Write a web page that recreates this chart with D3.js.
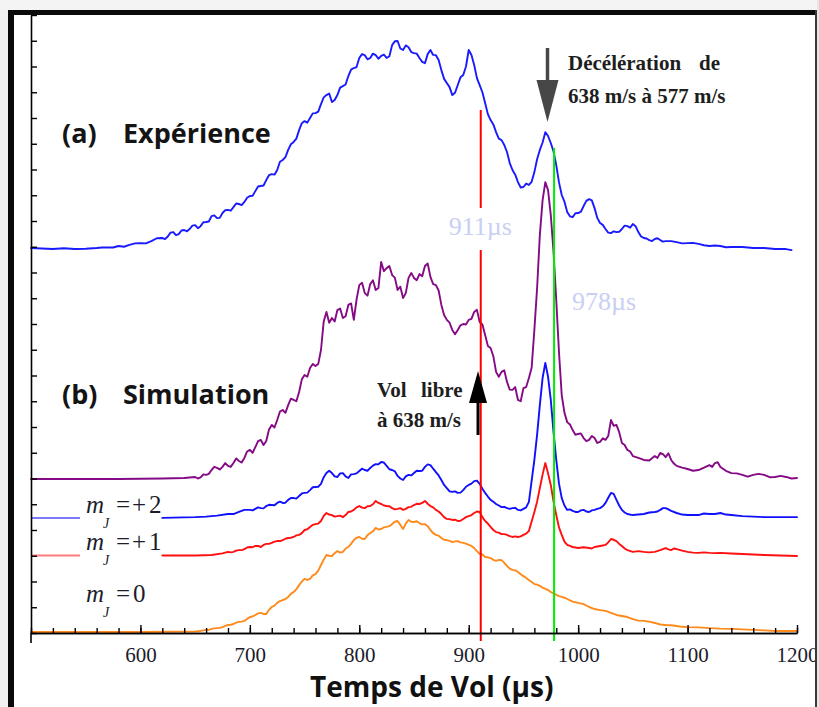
<!DOCTYPE html>
<html>
<head>
<meta charset="utf-8">
<script src="https://cdn.jsdelivr.net/npm/d3@7"></script>
<style>
  html, body { margin: 0; padding: 0; background: #fff; }
  svg { display: block; }
</style>
</head>
<body>
<svg id="chart" width="819" height="707"></svg>
<script>
// ---- axis set-up -------------------------------------------------------
const xDomain = [500, 1200];
const xMajorTicks = [600, 700, 800, 900, 1000, 1100, 1200];
const xMinorTicks = [500, 520, 540, 560, 580, 600, 620, 640, 660, 680, 700, 720, 740, 760, 780, 800,
  820, 840, 860, 880, 900, 920, 940, 960, 980, 1000, 1020, 1040, 1060, 1080, 1100, 1120, 1140, 1160, 1180, 1200];
const yDomain = [0, 24];
const yTicks = [0,1,2,3,4,5,6,7,8,9,10,11,12,13,14,15,16,17,18,19,20,21,22,23,24];

// ---- (a) measured time-of-flight signal (offset, arbitrary units) -------
const experience = [[500,14.95],[520,14.91],[530,14.94],[540,14.91],[550,14.92],[560,14.95],[565,14.97],[575,14.97],[580,15.03],[585,15.00],[590,15.07],[595,15.13],[600,15.14],[605,15.13],[610,15.22],[615,15.33],[620,15.34],[622.5,15.30],[625,15.40],[627.5,15.55],[630,15.57],[632.5,15.45],[635,15.49],[637.5,15.63],[640,15.65],[642.5,15.60],[645,15.69],[647.5,15.82],[650,15.84],[652.5,15.72],[655,15.80],[657.5,15.95],[660,15.96],[662.5,15.98],[665,16.19],[667.5,16.22],[670,16.11],[672.5,16.12],[675,16.31],[677.5,16.42],[680,16.43],[682.5,16.40],[685,16.54],[687.5,16.68],[690,16.66],[692.5,16.62],[695,16.74],[697.5,16.90],[700,16.97],[702.5,16.98],[705,17.16],[707.5,17.34],[710,17.36],[712.5,17.38],[715,17.59],[717.5,17.78],[720,17.82],[722.5,17.80],[725,17.98],[727.5,18.30],[730,18.37],[732.5,18.48],[735,18.76],[737.5,18.98],[740,19.07],[742.5,19.20],[745,19.53],[747.5,19.80],[750,19.88],[752.5,19.82],[755,20.00],[757.5,20.18],[760,20.19],[762.5,20.25],[765,20.54],[767.5,20.80],[770,20.89],[772.5,20.95],[775,20.62],[777.5,20.70],[780,20.89],[782.5,21.18],[785,21.24],[787.5,21.30],[790,21.63],[792.5,21.88],[795,21.94],[797.5,21.98],[800,22.33],[802.5,22.48],[805,22.44],[807.5,22.28],[810,22.33],[812.5,22.50],[815,22.44],[817.5,22.30],[820,22.41],[822.5,22.46],[825,22.33],[827.5,22.40],[830,22.83],[832.5,22.98],[835,22.99],[837.5,22.70],[840,22.64],[842.5,22.82],[845,22.75],[847.5,22.56],[850,22.52],[852.5,22.50],[855,22.33],[857.5,22.18],[860,22.13],[862.5,22.48],[865,22.64],[867.5,22.45],[870,22.44],[872.5,22.25],[875,21.86],[877.5,21.52],[880,21.36],[882.5,21.20],[885,20.89],[887.5,20.98],[890,21.28],[892.5,21.58],[895,21.67],[897.5,22.00],[900,22.64],[902.5,22.45],[905,22.06],[907.5,21.55],[910,21.28],[912.5,21.00],[915,20.58],[917.5,20.15],[920,19.92],[922.5,19.75],[925,19.45],[927.5,19.20],[930,19.14],[932.5,18.95],[935,18.68],[937.5,18.25],[940,17.98],[942.5,17.80],[945,17.51],[947.5,17.30],[950,17.32],[952.5,17.45],[955,17.40],[957.5,17.52],[960,17.90],[962.5,18.40],[965,18.76],[967.5,19.05],[970,19.45],[972.5,19.30],[975,19.03],[977.5,18.70],[980,18.17],[982.5,17.50],[985,17.01],[987.5,16.75],[990,16.35],[992.5,16.18],[995,16.15],[997.5,16.30],[1000,16.31],[1002.5,16.36],[1005,16.58],[1007.5,16.78],[1010,16.85],[1012.5,16.80],[1015,16.50],[1017.5,16.12],[1020,15.92],[1022.5,15.85],[1025,15.69],[1027.5,15.55],[1030,15.53],[1032.5,15.60],[1035,15.57],[1037.5,15.58],[1040,15.69],[1042.5,15.82],[1045,15.80],[1047.5,15.74],[1050,15.88],[1052.5,15.80],[1055,15.57],[1057.5,15.40],[1060,15.34],[1062.5,15.32],[1065,15.26],[1067.5,15.22],[1070,15.30],[1072.5,15.33],[1075,15.26],[1077.5,15.20],[1080,15.22],[1085,15.22],[1090,15.18],[1095,15.13],[1100,15.14],[1105,15.15],[1110,15.11],[1115,15.06],[1120,15.03],[1125,15.05],[1130,15.03],[1135,14.98],[1140,14.99],[1150,14.99],[1160,14.95],[1170,14.95],[1180,14.91],[1190,14.91],[1195,14.87]];

// ---- (b) simulated signals ---------------------------------------------
// total simulated signal
const simTotal = [[500,5.98],[580,5.98],[620,6.00],[640,6.02],[650,6.06],[652.5,6.00],[655,6.04],[657.5,6.16],[660,6.14],[662.5,6.18],[665,6.33],[667.5,6.45],[670,6.41],[672.5,6.35],[675,6.45],[677.5,6.60],[680,6.49],[682.5,6.45],[685,6.60],[687.5,6.78],[690,6.68],[692.5,6.62],[695,6.80],[697.5,7.05],[700,7.11],[702.5,7.00],[705,7.22],[707.5,7.45],[710,7.50],[712.5,7.30],[715,7.46],[717.5,7.90],[720,8.08],[722.5,7.98],[725,8.27],[727.5,8.60],[730,8.66],[732.5,8.55],[735,8.85],[737.5,9.10],[740,9.05],[742.5,9.00],[745,9.36],[747.5,9.85],[750,10.02],[752.5,9.95],[755,10.29],[757.5,10.45],[760,10.37],[762.5,10.45],[765,10.99],[767.5,12.10],[770,12.47],[772.5,12.05],[775,12.23],[777.5,12.10],[780,12.54],[782.5,12.60],[785,12.23],[787.5,12.30],[790,12.74],[792.5,12.80],[795,12.16],[797.5,12.95],[800,13.51],[802.5,13.60],[805,13.20],[807.5,13.10],[810,13.55],[812.5,13.70],[815,13.32],[817.5,13.40],[820,14.41],[822.5,14.05],[825,14.17],[827.5,14.25],[830,13.90],[832.5,13.80],[835,13.32],[837.5,13.45],[840,13.01],[842.5,13.20],[845,13.79],[847.5,13.98],[850,13.79],[852.5,13.70],[855,13.94],[857.5,13.85],[860,14.25],[862.5,14.35],[865,13.83],[867.5,13.55],[870,13.51],[872.5,13.30],[875,12.74],[877.5,12.35],[880,12.16],[882.5,12.05],[885,11.77],[887.5,11.60],[890,11.77],[892.5,11.95],[895,12.00],[897.5,11.98],[900,12.16],[902.5,12.20],[905,12.47],[907.5,12.55],[910,12.08],[912.5,11.98],[915,11.57],[917.5,11.15],[920,11.07],[922.5,10.75],[925,10.14],[927.5,9.95],[930,10.14],[932.5,10.20],[935,9.75],[937.5,9.45],[940,9.44],[942.5,9.55],[945,9.05],[947.5,9.00],[950,9.51],[952.5,9.55],[955,9.90],[957.5,10.30],[960,11.77],[962.5,13.40],[965,15.46],[967.5,16.80],[970,17.51],[972.5,17.20],[975,16.23],[977.5,14.80],[980,12.93],[982.5,10.90],[985,9.24],[987.5,8.55],[990,8.19],[992.5,8.10],[995,7.88],[997.5,7.70],[1000,7.73],[1002.5,7.75],[1005,7.57],[1007.5,7.45],[1010,7.50],[1012.5,7.65],[1015,7.57],[1017.5,7.38],[1020,7.42],[1022.5,7.56],[1025,7.50],[1027.5,7.65],[1030,8.27],[1032.5,8.05],[1035,8.08],[1037.5,7.80],[1040,7.38],[1042.5,7.30],[1045,7.11],[1047.5,7.05],[1050,6.87],[1055,6.80],[1060,6.72],[1065,6.70],[1070,6.87],[1072.5,6.80],[1075,6.99],[1077.5,6.95],[1080,6.83],[1082.5,6.98],[1085,6.72],[1087.5,6.58],[1090,6.49],[1095,6.42],[1100,6.37],[1105,6.30],[1110,6.33],[1115,6.42],[1120,6.52],[1122.5,6.45],[1125,6.60],[1127.5,6.63],[1130,6.45],[1135,6.30],[1140,6.21],[1145,6.20],[1150,6.14],[1155,6.07],[1160,6.14],[1165,6.18],[1170,6.14],[1175,6.05],[1180,6.06],[1185,6.10],[1190,6.06],[1195,6.00],[1200,6.02]];

// m_J = +2
const simMJ2 = [[620,4.47],[650,4.50],[660,4.52],[670,4.56],[680,4.62],[685,4.62],[690,4.70],[695,4.78],[700,4.78],[702.5,4.76],[705,4.82],[707.5,4.88],[710,4.85],[712.5,4.84],[715,4.93],[717.5,4.98],[720,4.97],[722.5,4.96],[725,5.05],[727.5,5.10],[730,5.05],[732.5,5.06],[735,5.17],[737.5,5.24],[740,5.24],[742.5,5.22],[745,5.32],[747.5,5.42],[750,5.44],[752.5,5.45],[755,5.55],[757.5,5.66],[760,5.67],[762.5,5.68],[765,5.79],[767.5,6.05],[770,6.21],[772.5,6.30],[775,6.21],[777.5,6.08],[780,6.06],[782.5,6.20],[785,6.21],[787.5,6.08],[790,6.02],[792.5,6.16],[795,6.17],[797.5,6.20],[800,6.29],[802.5,6.38],[805,6.33],[807.5,6.30],[810,6.41],[812.5,6.50],[815,6.56],[817.5,6.55],[820,6.64],[822.5,6.62],[825,6.49],[827.5,6.36],[830,6.33],[832.5,6.28],[835,6.10],[837.5,6.00],[840,5.94],[842.5,6.08],[845,6.14],[847.5,6.12],[850,6.21],[852.5,6.30],[855,6.29],[857.5,6.30],[860,6.45],[862.5,6.55],[865,6.52],[867.5,6.38],[870,6.25],[872.5,6.12],[875,5.94],[877.5,5.75],[880,5.63],[882.5,5.50],[885,5.48],[887.5,5.50],[890,5.44],[892.5,5.45],[895,5.55],[897.5,5.68],[900,5.75],[902.5,5.80],[905,5.90],[907.5,5.92],[910,5.79],[912.5,5.60],[915,5.44],[917.5,5.30],[920,5.17],[922.5,5.10],[925,5.01],[927.5,4.95],[930,4.89],[932.5,4.90],[935,4.85],[937.5,4.82],[940,4.85],[942.5,4.86],[945,4.78],[947.5,4.76],[950,4.82],[952.5,4.88],[955,5.09],[960,6.72],[962.5,7.70],[965,8.85],[967.5,9.90],[970,10.49],[972.5,9.95],[975,9.05],[977.5,7.80],[980,6.72],[982.5,5.80],[985,5.24],[987.5,4.95],[990,4.78],[992.5,4.80],[995,4.74],[997.5,4.70],[1000,4.70],[1002.5,4.76],[1005,4.78],[1007.5,4.72],[1010,4.70],[1012.5,4.76],[1015,4.78],[1017.5,4.82],[1020,4.85],[1022.5,4.92],[1025,5.05],[1027.5,5.25],[1030,5.44],[1032.5,5.40],[1035,5.17],[1037.5,4.95],[1040,4.78],[1042.5,4.68],[1045,4.62],[1050,4.58],[1055,4.60],[1060,4.62],[1065,4.68],[1070,4.70],[1072.5,4.72],[1075,4.78],[1077.5,4.85],[1080,4.85],[1082.5,4.80],[1085,4.74],[1090,4.66],[1095,4.60],[1100,4.58],[1105,4.58],[1110,4.58],[1115,4.64],[1120,4.62],[1125,4.62],[1130,4.66],[1135,4.60],[1140,4.58],[1150,4.54],[1170,4.50],[1200,4.50]];

// m_J = +1
const simMJ1 = [[620,3.01],[650,3.01],[665,3.03],[675,3.09],[680,3.15],[682.5,3.13],[685,3.15],[687.5,3.20],[690,3.22],[692.5,3.22],[695,3.26],[697.5,3.32],[700,3.34],[702.5,3.33],[705,3.38],[707.5,3.38],[710,3.34],[712.5,3.42],[715,3.46],[717.5,3.46],[720,3.50],[722.5,3.55],[725,3.57],[727.5,3.57],[730,3.61],[732.5,3.66],[735,3.69],[737.5,3.70],[740,3.73],[742.5,3.79],[745,3.81],[747.5,3.88],[750,4.00],[752.5,4.03],[755,4.12],[757.5,4.20],[760,4.23],[762.5,4.25],[765,4.35],[767.5,4.55],[770,4.66],[772.5,4.60],[775,4.58],[777.5,4.52],[780,4.54],[782.5,4.56],[785,4.50],[787.5,4.58],[790,4.70],[792.5,4.72],[795,4.78],[797.5,4.88],[800,4.93],[802.5,4.87],[805,4.85],[807.5,4.92],[810,4.93],[812.5,5.00],[815,5.13],[817.5,5.05],[820,5.01],[822.5,4.95],[825,4.93],[827.5,4.92],[830,4.85],[832.5,4.80],[835,4.82],[837.5,4.85],[840,4.78],[842.5,4.82],[845,4.89],[847.5,4.90],[850,4.97],[852.5,5.02],[855,5.01],[857.5,5.05],[860,5.13],[862.5,5.02],[865,4.93],[867.5,4.88],[870,4.78],[872.5,4.72],[875,4.62],[877.5,4.50],[880,4.43],[882.5,4.42],[885,4.39],[887.5,4.40],[890,4.35],[892.5,4.36],[895,4.43],[897.5,4.50],[900,4.54],[902.5,4.58],[905,4.66],[907.5,4.72],[910,4.70],[912.5,4.50],[915,4.35],[917.5,4.25],[920,4.12],[922.5,4.00],[925,3.92],[927.5,3.90],[930,3.84],[932.5,3.84],[935,3.81],[937.5,3.76],[940,3.73],[942.5,3.75],[945,3.73],[947.5,3.75],[950,3.81],[952.5,3.86],[955,3.96],[960,4.70],[962.5,5.10],[965,5.63],[967.5,6.15],[970,6.60],[972.5,6.20],[975,5.75],[977.5,5.10],[980,4.58],[982.5,4.10],[985,3.81],[987.5,3.55],[990,3.42],[992.5,3.38],[995,3.34],[997.5,3.32],[1000,3.30],[1005,3.33],[1010,3.30],[1012.5,3.28],[1015,3.34],[1017.5,3.36],[1020,3.38],[1022.5,3.40],[1025,3.42],[1027.5,3.52],[1030,3.65],[1032.5,3.62],[1035,3.57],[1037.5,3.46],[1040,3.38],[1042.5,3.28],[1045,3.22],[1050,3.15],[1055,3.18],[1060,3.15],[1065,3.13],[1070,3.15],[1075,3.22],[1080,3.30],[1082.5,3.25],[1085,3.22],[1087.5,3.28],[1090,3.26],[1095,3.20],[1100,3.15],[1105,3.12],[1110,3.11],[1115,3.13],[1120,3.11],[1125,3.10],[1130,3.11],[1140,3.09],[1150,3.07],[1170,3.03],[1200,2.99]];

// m_J = 0
const simMJ0 = [[500,0.04],[600,0.04],[650,0.06],[655,0.08],[660,0.12],[662.5,0.12],[665,0.16],[667.5,0.18],[670,0.19],[672.5,0.20],[675,0.23],[677.5,0.28],[680,0.31],[682.5,0.32],[685,0.35],[687.5,0.40],[690,0.43],[692.5,0.44],[695,0.47],[697.5,0.55],[700,0.62],[702.5,0.64],[705,0.70],[707.5,0.76],[710,0.78],[712.5,0.74],[715,0.74],[717.5,0.90],[720,1.01],[722.5,1.06],[725,1.17],[727.5,1.24],[730,1.28],[732.5,1.32],[735,1.40],[737.5,1.52],[740,1.59],[742.5,1.70],[745,1.86],[747.5,2.00],[750,2.10],[752.5,2.06],[755,2.10],[757.5,2.24],[760,2.29],[762.5,2.42],[765,2.64],[767.5,2.85],[770,3.03],[772.5,3.00],[775,2.99],[777.5,3.10],[780,3.18],[782.5,3.12],[785,3.15],[787.5,3.28],[790,3.34],[792.5,3.46],[795,3.61],[797.5,3.70],[800,3.73],[802.5,3.66],[805,3.65],[807.5,3.80],[810,3.88],[812.5,3.95],[815,4.08],[817.5,4.02],[820,4.04],[822.5,4.10],[825,4.12],[827.5,4.15],[830,4.23],[832.5,4.32],[835,4.35],[837.5,4.20],[840,4.04],[842.5,4.25],[845,4.39],[847.5,4.32],[850,4.31],[852.5,4.34],[855,4.27],[857.5,4.22],[860,4.23],[862.5,4.15],[865,4.00],[867.5,3.88],[870,3.81],[872.5,3.78],[875,3.69],[877.5,3.62],[880,3.61],[882.5,3.58],[885,3.53],[887.5,3.56],[890,3.57],[892.5,3.52],[895,3.50],[897.5,3.47],[900,3.42],[902.5,3.38],[905,3.30],[907.5,3.18],[910,3.07],[912.5,3.05],[915,2.95],[917.5,2.94],[920,2.91],[922.5,2.84],[925,2.80],[927.5,2.84],[930,2.83],[932.5,2.72],[935,2.60],[937.5,2.50],[940,2.45],[942.5,2.43],[945,2.37],[947.5,2.28],[950,2.21],[952.5,2.14],[955,2.06],[957.5,1.98],[960,1.90],[962.5,1.88],[965,1.83],[967.5,1.76],[970,1.71],[972.5,1.67],[975,1.59],[977.5,1.55],[980,1.48],[982.5,1.43],[985,1.40],[987.5,1.37],[990,1.32],[995,1.22],[1000,1.17],[1005,1.12],[1010,1.01],[1015,0.93],[1020,0.89],[1025,0.86],[1030,0.78],[1035,0.70],[1040,0.66],[1045,0.62],[1050,0.54],[1055,0.48],[1060,0.47],[1065,0.44],[1070,0.39],[1075,0.33],[1080,0.31],[1085,0.30],[1090,0.27],[1095,0.24],[1100,0.23],[1110,0.22],[1120,0.19],[1130,0.17],[1140,0.16],[1150,0.14],[1160,0.12],[1170,0.10],[1180,0.08],[1190,0.08],[1200,0.08]];

// arrival-time markers
const freeFlightTime = 911;   // µs, vol libre
const slowedTime = 978;       // µs, après décélération

// ---- drawing ------------------------------------------------------------
const W = 819, H = 707;
const svg = d3.select("#chart");

const x = d3.scaleLinear().domain(xDomain).range([31, 797]);
const y = d3.scaleLinear().domain(yDomain).range([633, 15]);

svg.append("rect").attr("width", W).attr("height", H).attr("fill", "#fff");

const line = d3.line().x(d => x(d[0])).y(d => y(d[1]));

// curves
const curves = [
  { data: simMJ0, color: "#ff8a1c" },
  { data: simMJ1, color: "#ff1010" },
  { data: simMJ2, color: "#1010ff" },
  { data: simTotal, color: "#850a85" },
  { data: experience, color: "#1a1aff" }
];

const gCurves = svg.append("g").attr("fill", "none")
  .attr("stroke-linejoin", "round").attr("stroke-linecap", "round");
gCurves.selectAll("path").data(curves).join("path")
  .attr("d", d => line(d.data))
  .attr("stroke", d => d.color)
  .attr("stroke-width", 1.9);

// legend stubs in front of the m_J labels
const legendStubs = [
  { v: simMJ2[0][1], color: "#5a5aff" },
  { v: simMJ1[0][1], color: "#ff5a5a" }
];
svg.append("g").selectAll("line").data(legendStubs).join("line")
  .attr("x1", x(500)).attr("x2", 80)
  .attr("y1", d => y(d.v)).attr("y2", d => y(d.v))
  .attr("stroke", d => d.color).attr("stroke-width", 2).attr("opacity", 0.8);

// vertical arrival-time markers
const markers = [
  { t: freeFlightTime, top: 110, color: "#ff0000" },
  { t: slowedTime, top: 148, color: "#00ee00" }
];
svg.append("g").selectAll("line").data(markers).join("line")
  .attr("x1", d => x(d.t)).attr("x2", d => x(d.t))
  .attr("y1", d => d.top).attr("y2", 641)
  .attr("stroke", d => d.color).attr("stroke-width", 2);

// labels of the marker times (with a white backing for the 911 one)
svg.append("rect").attr("x", x(freeFlightTime) - 33).attr("y", 208)
  .attr("width", 74).attr("height", 42).attr("fill", "#fff");
const timeLabels = [
  { t: freeFlightTime, x: x(freeFlightTime) - 32, y: 235 },
  { t: slowedTime, x: 572, y: 310 }
];
svg.append("g").selectAll("text").data(timeLabels).join("text")
  .attr("x", d => d.x).attr("y", d => d.y)
  .attr("font-family", "Liberation Serif, serif").attr("font-size", 26)
  .attr("fill", "#c8cff3")
  .text(d => d.t + "µs");

// ---- axes ---------------------------------------------------------------
const axisColor = "#000";
const gx = svg.append("g").attr("transform", "translate(0,633)");
gx.call(d3.axisBottom(x).tickValues(xMinorTicks).tickSize(-5).tickSizeOuter(0).tickFormat(""));
const gxMaj = svg.append("g").attr("transform", "translate(0,633)");
gxMaj.call(d3.axisBottom(x).tickValues(xMajorTicks).tickSize(-8).tickSizeOuter(0)
  .tickPadding(14).tickFormat(d3.format("d")));
[gx, gxMaj].forEach(g => {
  g.select(".domain").attr("stroke", axisColor).attr("stroke-width", 1.6);
  g.selectAll(".tick line").attr("stroke", axisColor).attr("stroke-width", 1.4);
});
gxMaj.selectAll(".tick text")
  .attr("font-family", "Liberation Serif, serif").attr("font-size", 21)
  .attr("fill", "#1b1b2a");

const gy = svg.append("g").attr("transform", "translate(31,0)");
gy.call(d3.axisLeft(y).tickValues(yTicks).tickSize(-6).tickSizeOuter(0).tickFormat(""));
gy.select(".domain").attr("stroke", axisColor).attr("stroke-width", 1.6);
gy.selectAll(".tick line").attr("stroke", axisColor).attr("stroke-width", 1.4);
svg.append("line").attr("x1", 31).attr("x2", 31).attr("y1", 633).attr("y2", 643)
  .attr("stroke", axisColor).attr("stroke-width", 1.6);

svg.append("text").attr("x", 310).attr("y", 697)
  .attr("font-family", "Open Sans, sans-serif").attr("font-weight", 700)
  .attr("font-size", 28).attr("fill", "#111")
  .text("Temps de Vol (µs)");

// ---- panel titles -------------------------------------------------------
const panelTitles = [
  { tag: "(a)", name: "Expérience", y: 143 },
  { tag: "(b)", name: "Simulation", y: 404 }
];
const gTitles = svg.append("g")
  .attr("font-family", "Open Sans, sans-serif").attr("font-weight", 700)
  .attr("font-size", 27).attr("fill", "#141414");
gTitles.selectAll("text.tag").data(panelTitles).join("text").attr("class", "tag")
  .attr("x", 62).attr("y", d => d.y).text(d => d.tag);
gTitles.selectAll("text.name").data(panelTitles).join("text").attr("class", "name")
  .attr("x", 123).attr("y", d => d.y).text(d => d.name);

// ---- m_J labels ---------------------------------------------------------
const mjLabels = [
  { v: simMJ2[0][1], sign: "+", num: "2" },
  { v: simMJ1[0][1], sign: "+", num: "1" },
  { v: 1.0, sign: "", num: "0" }
];
const gMJ = svg.append("g").attr("font-family", "Liberation Serif, serif").attr("fill", "#1c1c2c");
mjLabels.forEach(d => {
  const base = y(d.v) - 5;
  gMJ.append("text").attr("x", 86).attr("y", base)
    .attr("font-size", 25).attr("font-style", "italic").text("m");
  gMJ.append("text").attr("x", 103).attr("y", base + 15)
    .attr("font-size", 14).attr("font-style", "italic").text("J");
  const t = gMJ.append("text").attr("y", base).attr("font-size", 25);
  t.append("tspan").attr("x", 116).text("=");
  if (d.sign) {
    t.append("tspan").attr("x", 132).text(d.sign);
    t.append("tspan").attr("x", 149).text(d.num);
  } else {
    t.append("tspan").attr("x", 133).text(d.num);
  }
});

// ---- annotations --------------------------------------------------------
const gNote = svg.append("g").attr("font-family", "Liberation Serif, serif")
  .attr("font-weight", 700).attr("font-size", 21).attr("fill", "#1e1e1e");
gNote.append("text").attr("x", 568).attr("y", 70).text("Décélération");
gNote.append("text").attr("x", 699).attr("y", 70).text("de");
gNote.append("text").attr("x", 568).attr("y", 103).text("638 m/s à 577 m/s");
gNote.append("text").attr("x", 377).attr("y", 397).text("Vol");
gNote.append("text").attr("x", 421).attr("y", 397).text("libre");
gNote.append("text").attr("x", 377).attr("y", 427).text("à 638 m/s");

// down arrow onto the decelerated peak
const ax1 = x(972);
svg.append("line").attr("x1", ax1).attr("x2", ax1).attr("y1", 48).attr("y2", 85)
  .attr("stroke", "#474747").attr("stroke-width", 3.5);
svg.append("path")
  .attr("d", `M${ax1 - 11},80 L${ax1 + 11},80 L${ax1},122 Z`)
  .attr("fill", "#474747");

// up arrow at the free-flight arrival
const ax2 = x(908.5);
svg.append("line").attr("x1", ax2).attr("x2", ax2).attr("y1", 400).attr("y2", 435)
  .attr("stroke", "#000").attr("stroke-width", 3);
svg.append("path")
  .attr("d", `M${ax2 - 9},403 L${ax2 + 9},403 L${ax2},371 Z`)
  .attr("fill", "#000");

// ---- frame --------------------------------------------------------------
svg.append("rect").attr("x", 0).attr("y", 0).attr("width", 8).attr("height", H).attr("fill", "#f1f1f1");
svg.append("rect").attr("x", 0).attr("y", 0).attr("width", W).attr("height", 10).attr("fill", "#f4f4f4");
svg.append("rect").attr("x", 817).attr("y", 0).attr("width", 2).attr("height", H).attr("fill", "#e6e6e6");
svg.append("rect").attr("x", 8).attr("y", 10).attr("width", 6).attr("height", H - 10).attr("fill", "#0a0a0a");
svg.append("rect").attr("x", 8).attr("y", 10).attr("width", 809).attr("height", 5).attr("fill", "#0a0a0a");
svg.append("rect").attr("x", 815).attr("y", 10).attr("width", 2).attr("height", H - 10).attr("fill", "#3a3a3a");
</script>
</body>
</html>
